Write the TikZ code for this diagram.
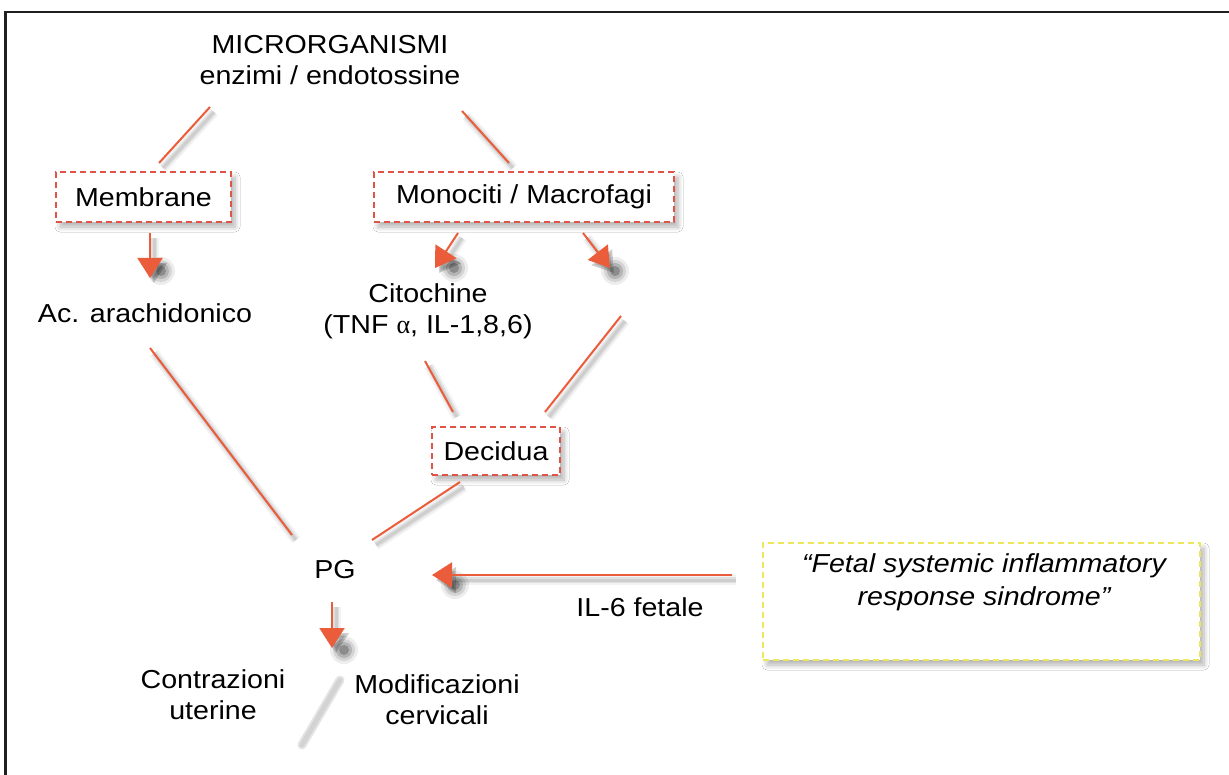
\documentclass[tikz,border=0pt]{standalone}
\usepackage{fontspec}
\setmainfont{Liberation Sans}[FakeStretch=1.1]
\newfontfamily\grk{Liberation Serif}
\usetikzlibrary{arrows.meta,shadows.blur}
\definecolor{ln}{RGB}{234,92,58}
\definecolor{dbox}{RGB}{224,84,72}
\definecolor{ybox}{RGB}{236,232,90}
\definecolor{frame}{RGB}{32,32,32}
\begin{document}
\begin{tikzpicture}[x=1pt,y=-1pt,
  txt/.style={font=\fontsize{26}{31}\selectfont, align=center, inner sep=0pt},
  bshadow/.style={blur shadow={shadow xshift=4pt, shadow yshift=-5pt, shadow opacity=30, shadow blur steps=8, shadow blur radius=5pt}},
  dbx/.style={draw=dbox, dash pattern=on 6pt off 4pt, line width=1.5pt, fill=white, bshadow},
  ybx/.style={draw=ybox, dash pattern=on 6pt off 4pt, line width=1.5pt, fill=white, bshadow},
  shd/.style={preaction={draw=black, opacity=0.05, line width=10pt, transform canvas={xshift=4pt,yshift=-5pt}},
              preaction={draw=black, opacity=0.07, line width=6pt, transform canvas={xshift=4pt,yshift=-5pt}},
              preaction={draw=black, opacity=0.08, line width=3pt, transform canvas={xshift=4pt,yshift=-5pt}}},
  conn/.style={draw=ln, line width=2pt, shd},
  arr/.style={draw=ln, line width=2pt, shd, -{Triangle[length=20pt,width=25pt]}},
  ghost/.style={draw=black, opacity=0.10, line width=9pt, line cap=round}
]
\useasboundingbox (0,0) rectangle (1229,775);
\fill[white] (0,0) rectangle (1229,775);
% frame
\draw[line width=2.6pt, draw=frame] (5.7,775) -- (5.7,12.2) -- (1229,12.2);

% nodes
\node[txt] (micro) at (330,60) {MICRORGANISMI\\enzimi / endotossine};
\node[dbx, txt, minimum width=175pt, minimum height=50pt] (memb) at (143.5,197) {Membrane};
\node[dbx, txt, minimum width=300pt, minimum height=50pt] (mono) at (524,197) {Monociti / Macrofagi};
\node[txt] (ac) at (145,313) {Ac. arachidonico};
\node[txt] (cito) at (428,311) {Citochine\\(TNF {\grk α}, IL-1,8,6)};
\node[dbx, txt, minimum width=128pt, minimum height=48pt] (dec) at (496,451) {Decidua};
\node[txt] (pg) at (335,570) {PG};
\node[txt] (il6) at (640,607) {IL-6 fetale};
\node[ybx, minimum width=437pt, minimum height=117pt] (fetal) at (981.5,601.5) {};
\node[txt, font=\fontsize{26}{33}\selectfont\itshape] (fettxt) at (984,582) {“Fetal systemic inflammatory\\response sindrome”};
\node[txt] (contr) at (213,695) {Contrazioni\\uterine};
\node[txt] (modif) at (437,700) {Modificazioni\\cervicali};

% connector end points
\coordinate (m1) at (210,107); \coordinate (mb1) at (159,163);
\coordinate (m2) at (462,111); \coordinate (mo1) at (509,163);
\coordinate (mb2) at (150,233); \coordinate (ac1) at (150,278);
\coordinate (mo2) at (458,233); \coordinate (ci1) at (435,268);
\coordinate (mo3) at (583,233); \coordinate (hid1) at (610,268);
\coordinate (ci2) at (425,361); \coordinate (de1) at (453,412);
\coordinate (hid2) at (621,316); \coordinate (de2) at (545,412);
\coordinate (ac2) at (150,348); \coordinate (pg1) at (292,535);
\coordinate (de3) at (460,482); \coordinate (pg2) at (372,540);
\coordinate (fe1) at (732,575); \coordinate (pg3) at (432,575);
\coordinate (pg4) at (332,602); \coordinate (mc1) at (332,648);
\coordinate (gh1) at (340,680); \coordinate (gh2) at (302,745);

% soft arrow-head shadows
\foreach \p in {(161,271),(454,268),(615,271),(455,585),(344,650)}
  \foreach \r/\o in {14/0.07,11/0.10,8/0.15,5/0.22}
    \fill[black, opacity=\o] \p circle (\r);

% connectors
\draw[conn] (m1) -- (mb1);
\draw[conn] (m2) -- (mo1);
\draw[arr] (mb2) -- (ac1);
\draw[arr] (mo2) -- (ci1);
\draw[arr] (mo3) -- (hid1);
\draw[conn] (ci2) -- (de1);
\draw[conn] (hid2) -- (de2);
\draw[conn] (ac2) -- (pg1);
\draw[conn] (de3) -- (pg2);
\draw[arr] (fe1) -- (pg3);
\draw[arr] (pg4) -- (mc1);
\draw[ghost] (gh1) -- (gh2);
\draw[draw=black, opacity=0.08, line width=5pt, line cap=round] (gh1) -- (gh2);
\end{tikzpicture}
\end{document}
